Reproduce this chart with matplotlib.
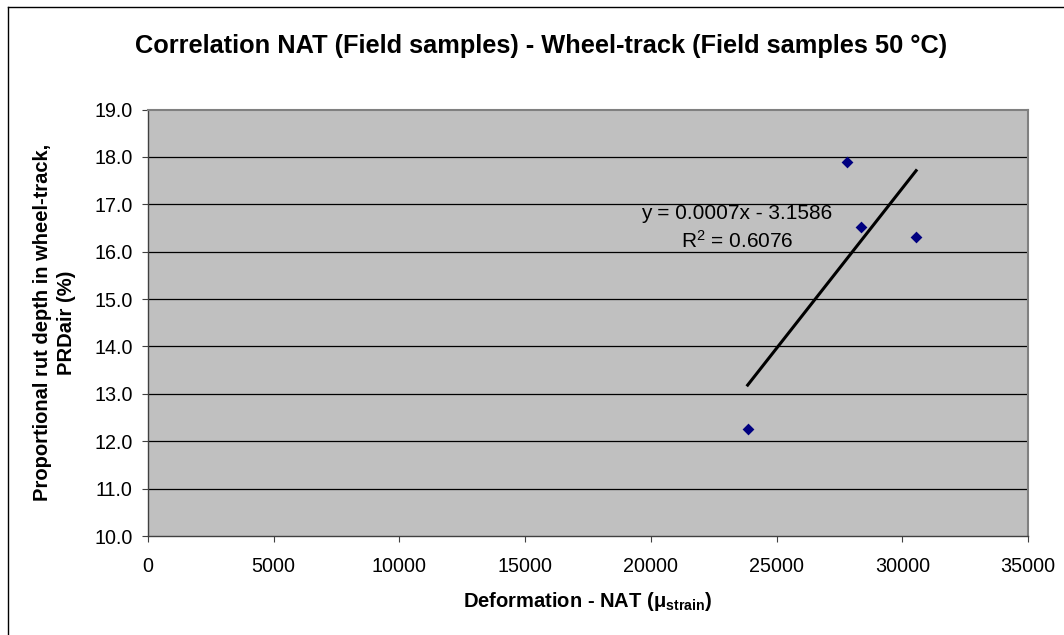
import numpy as np
import matplotlib
matplotlib.use("Agg")
import matplotlib.pyplot as plt
from matplotlib.lines import Line2D

# Data
x_nat = [27800, 28350, 30550, 23850]
y_prd = [17.90, 16.51, 16.31, 12.25]
x_ticks = [0, 5000, 10000, 15000, 20000, 25000, 30000, 35000]
y_ticks = [10.0, 11.0, 12.0, 13.0, 14.0, 15.0, 16.0, 17.0, 18.0, 19.0]
title = "Correlation NAT (Field samples) - Wheel-track (Field samples 50 °C)"
eq_text = "y = 0.0007x - 3.1586"
r2_text = r"R$^2$ = 0.6076"

plt.rcParams['font.family'] = ['Liberation Sans', 'DejaVu Sans']
plt.rcParams['mathtext.fontset'] = 'custom'
plt.rcParams['mathtext.rm'] = 'Liberation Sans'
plt.rcParams['mathtext.it'] = 'Liberation Sans:italic'
plt.rcParams['mathtext.bf'] = 'Liberation Sans:bold'

W, H = 1064, 635
fig = plt.figure(figsize=(W / 100, H / 100), dpi=100)
fig.patch.set_facecolor('white')

# chart border (top and left edges visible)
bx, by = 7.5 / W, 1 - 6.5 / H
fig.add_artist(Line2D([bx, 1.0], [by, by], transform=fig.transFigure,
                      color='black', linewidth=1.0))
fig.add_artist(Line2D([bx, bx], [0.0, by], transform=fig.transFigure,
                      color='black', linewidth=1.0))

l, r, t, b = 148, 1028, 109.5, 536
ax = fig.add_axes([l / W, 1 - b / H, (r - l) / W, (b - t) / H])
ax.set_facecolor('#c0c0c0')
ax.set_xlim(0, 35000)
ax.set_ylim(10, 19)
ax.set_xticks(x_ticks)
ax.set_xticklabels([str(v) for v in x_ticks])
ax.set_yticks(y_ticks)
ax.set_yticklabels([f"{v:.1f}" for v in y_ticks])
ax.tick_params(axis='both', labelsize=14.2, direction='out', length=4.5, width=0.8,
               color='#404040')
ax.tick_params(axis='y', pad=6.5)
ax.tick_params(axis='x', pad=10.5)
for v in y_ticks[1:-1]:
    ax.axhline(v, color='black', linewidth=0.9, zorder=1)
for s in ['top', 'right']:
    ax.spines[s].set_color('#808080')
    ax.spines[s].set_linewidth(1.5)
for s in ['left', 'bottom']:
    ax.spines[s].set_color('#404040')
    ax.spines[s].set_linewidth(1.0)

ax.scatter(x_nat, y_prd, marker='D', s=36, color='#000080', zorder=3, linewidths=0)

coef = np.polyfit(x_nat, y_prd, 1)
xs = np.array([min(x_nat), max(x_nat)])
ax.plot(xs, np.polyval(coef, xs), color='black', linewidth=2.2, zorder=2)

ax.text(23400, 16.81, eq_text, ha='center', va='center', fontsize=15)
ax.text(23450, 16.23, r2_text, ha='center', va='center', fontsize=15)

ax.set_xlabel(r"Deformation - NAT ($\mathbf{\mu_{strain}}$)", fontsize=14.5,
              fontweight='bold', labelpad=10)
ax.set_ylabel("Proportional rut depth in wheel-track,\nPRDair (%)", fontsize=14.5,
              fontweight='bold', labelpad=13, linespacing=1.35)

fig.text(541 / W, 1 - 46 / H, title, ha='center', va='center', fontsize=18.3,
         fontweight='bold')

fig.savefig("out.png", dpi=100)
